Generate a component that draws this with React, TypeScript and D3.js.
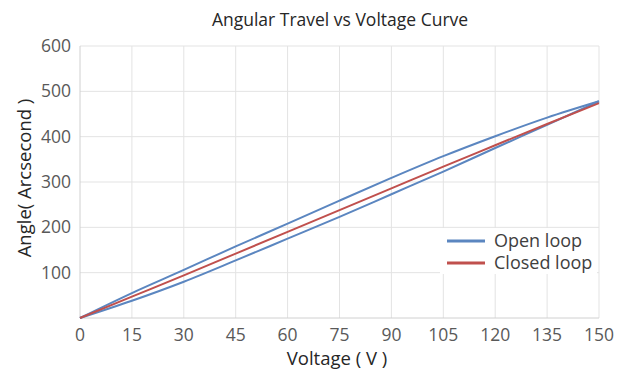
import React, { useEffect, useRef } from "react";
import * as d3 from "d3";

const voltages = [0, 15, 30, 45, 60, 75, 90, 105, 120, 135, 150];
const openUp = [0, 38, 80, 127, 175, 223, 273, 323, 375, 426, 478];
const openDown = [0, 55, 106, 158, 208, 259, 309, 357, 401, 442, 478];
const closedLoop = [0, 47, 94, 142, 190, 238, 286, 334, 381, 428, 474];
const yTicks = [100, 200, 300, 400, 500, 600];
const seriesNames = ["Open loop", "Closed loop"];

const BLUE = "#5b86c0";
const RED = "#c0504d";
const FONT = "'Open Sans', 'Noto Sans', sans-serif";

const App = () => {
  const svgRef = useRef<SVGSVGElement>(null);

  useEffect(() => {
    const svg = d3.select(svgRef.current);
    svg.selectAll("*").remove();

    const margin = { top: 46, right: 41, bottom: 56, left: 80 };
    const width = 640;
    const height = 374;
    const w = width - margin.left - margin.right;
    const h = height - margin.top - margin.bottom;

    const x = d3.scaleLinear().domain([0, 150]).range([0, w]);
    const y = d3.scaleLinear().domain([0, 600]).range([h, 0]);

    // Title
    svg
      .append("text")
      .attr("x", 340)
      .attr("y", 26)
      .attr("text-anchor", "middle")
      .attr("font-family", FONT)
      .attr("font-size", 17.5)
      .attr("fill", "#262626")
      .text("Angular Travel vs Voltage Curve");

    const g = svg
      .append("g")
      .attr("transform", `translate(${margin.left}, ${margin.top})`);

    // Grid
    g.selectAll(".vgrid")
      .data(voltages.slice(1))
      .enter()
      .append("line")
      .attr("x1", (d) => x(d))
      .attr("x2", (d) => x(d))
      .attr("y1", 0)
      .attr("y2", h)
      .attr("stroke", "#e3e3e3");

    g.selectAll(".hgrid")
      .data(yTicks)
      .enter()
      .append("line")
      .attr("x1", 0)
      .attr("x2", w)
      .attr("y1", (d) => y(d))
      .attr("y2", (d) => y(d))
      .attr("stroke", "#e3e3e3");

    // Axis lines
    g.append("line")
      .attr("x1", 0)
      .attr("x2", 0)
      .attr("y1", 0)
      .attr("y2", h)
      .attr("stroke", "#d0d0d0");
    g.append("line")
      .attr("x1", 0)
      .attr("x2", w)
      .attr("y1", h)
      .attr("y2", h)
      .attr("stroke", "#d0d0d0");

    // Tick labels
    g.selectAll(".xlab")
      .data(voltages)
      .enter()
      .append("text")
      .attr("x", (d) => x(d))
      .attr("y", h + 23)
      .attr("text-anchor", "middle")
      .attr("font-family", FONT)
      .attr("font-size", 17.5)
      .attr("fill", "#595959")
      .text((d) => d);

    g.selectAll(".ylab")
      .data(yTicks)
      .enter()
      .append("text")
      .attr("x", -9)
      .attr("y", (d) => y(d) + 6)
      .attr("text-anchor", "end")
      .attr("font-family", FONT)
      .attr("font-size", 17.5)
      .attr("fill", "#595959")
      .text((d) => d);

    // Axis titles
    svg
      .append("text")
      .attr("x", 337)
      .attr("y", 365)
      .attr("text-anchor", "middle")
      .attr("font-family", FONT)
      .attr("font-size", 18.5)
      .attr("fill", "#262626")
      .text("Voltage ( V )");

    svg
      .append("text")
      .attr("transform", "translate(31, 178) rotate(-90)")
      .attr("text-anchor", "middle")
      .attr("font-family", FONT)
      .attr("font-size", 18.5)
      .attr("fill", "#262626")
      .text("Angle( Arcsecond )");

    // Lines
    const line = d3
      .line<number>()
      .x((d, i) => x(voltages[i]))
      .y((d) => y(d))
      .curve(d3.curveMonotoneX);

    [openUp, openDown].forEach((s) => {
      g.append("path")
        .attr("d", line(s))
        .attr("fill", "none")
        .attr("stroke", BLUE)
        .attr("stroke-width", 2);
    });

    g.append("path")
      .attr("d", line(closedLoop))
      .attr("fill", "none")
      .attr("stroke", RED)
      .attr("stroke-width", 2);

    // Legend
    const lg = svg.append("g").attr("transform", "translate(440, 228)");
    lg.append("rect")
      .attr("width", 157)
      .attr("height", 46)
      .attr("fill", "#fff");
    [BLUE, RED].forEach((c, i) => {
      lg.append("line")
        .attr("x1", 7)
        .attr("x2", 45)
        .attr("y1", 13 + i * 22)
        .attr("y2", 13 + i * 22)
        .attr("stroke", c)
        .attr("stroke-width", 3);
      lg.append("text")
        .attr("x", 54)
        .attr("y", 19 + i * 22)
        .attr("font-family", FONT)
        .attr("font-size", 18)
        .attr("fill", "#404040")
        .text(seriesNames[i]);
    });
  }, []);

  return (
    <svg
      ref={svgRef}
      width={640}
      height={374}
      style={{ position: "absolute", left: 0, top: 0, background: "#fff" }}
    ></svg>
  );
};

export default App;
